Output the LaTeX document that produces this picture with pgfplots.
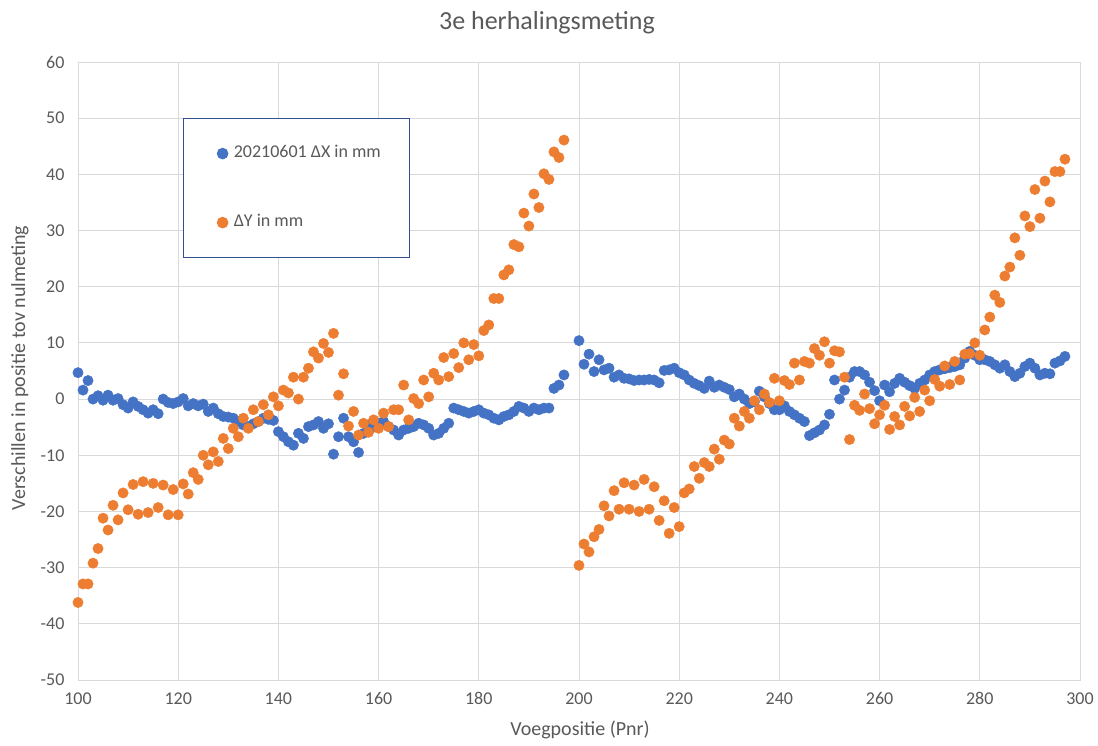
\documentclass[border=0pt]{standalone}
\usepackage{fontspec}
\setmainfont{Carlito}
\usepackage{pgfplots}
\pgfplotsset{compat=1.18}
\usepackage{pgfplotstable}
\definecolor{xblue}{HTML}{4472C4}
\definecolor{yorange}{HTML}{ED7D31}
\definecolor{txtgray}{HTML}{595959}
\definecolor{gridgray}{HTML}{D9D9D9}
\definecolor{legblue}{HTML}{2F528F}
\pgfplotsset{dotleg/.style={legend image code/.code={\path[draw=none,fill=none] (0pt,-8pt) rectangle (15pt,8pt); \draw[##1] plot coordinates {(10pt,0pt)};}}}

\pgfplotstableread{
x y
100 4.7
101 1.6
102 3.3
103 0.0
104 0.6
105 -0.2
106 0.7
107 -0.2
108 0.1
109 -1.0
110 -1.6
111 -0.5
112 -1.3
113 -1.9
114 -2.5
115 -1.9
116 -2.6
117 0.0
118 -0.6
119 -0.8
120 -0.5
121 0.1
122 -1.2
123 -0.8
124 -1.2
125 -0.9
126 -2.2
127 -1.6
128 -2.6
129 -3.1
130 -3.2
131 -3.4
132 -4.0
133 -4.6
134 -4.9
135 -4.4
136 -4.0
137 -3.4
138 -3.6
139 -3.8
140 -5.8
141 -6.7
142 -7.6
143 -8.2
144 -6.1
145 -7.0
146 -4.9
147 -4.6
148 -4.0
149 -5.2
150 -4.4
151 -9.8
152 -6.7
153 -3.4
154 -6.7
155 -7.6
156 -9.5
157 -6.1
158 -4.6
159 -5.0
160 -4.3
161 -4.0
162 -4.9
163 -5.5
164 -6.4
165 -5.5
166 -5.2
167 -4.9
168 -4.3
169 -4.6
170 -5.2
171 -6.4
172 -6.1
173 -5.2
174 -4.3
175 -1.6
176 -1.9
177 -2.2
178 -2.5
179 -2.2
180 -1.9
181 -2.5
182 -2.8
183 -3.4
184 -3.7
185 -3.1
186 -2.8
187 -2.2
188 -1.3
189 -1.6
190 -2.2
191 -1.6
192 -1.9
193 -1.6
194 -1.6
195 1.9
196 2.5
197 4.3
200 10.4
201 6.2
202 8.0
203 4.9
204 7.0
205 5.2
206 5.5
207 3.9
208 4.3
209 3.7
210 3.6
211 3.3
212 3.4
213 3.4
214 3.5
215 3.4
216 2.9
217 5.1
218 5.2
219 5.5
220 4.7
221 4.3
222 3.4
223 2.8
224 2.4
225 1.9
226 3.2
227 2.1
228 2.5
229 2.1
230 1.7
231 0.4
232 0.9
233 0.0
234 -0.8
235 -0.5
236 1.4
237 0.4
238 -0.8
239 -1.9
240 -1.9
241 -1.2
242 -2.2
243 -2.8
244 -3.4
245 -4.0
246 -6.5
247 -6.0
248 -5.5
249 -4.6
250 -2.7
251 3.4
252 0.0
253 1.6
254 3.9
255 4.9
256 4.9
257 4.3
258 3.0
259 1.5
260 -0.3
261 2.5
262 1.3
263 2.8
264 3.7
265 3.0
266 2.4
267 1.9
268 2.8
269 3.4
270 4.3
271 4.9
272 5.2
273 5.4
274 5.6
275 5.8
276 6.1
277 7.3
278 8.5
279 7.8
280 7.0
281 7.0
282 6.7
283 6.1
284 5.5
285 6.1
286 4.9
287 4.0
288 4.6
289 5.8
290 6.4
291 5.5
292 4.3
293 4.6
294 4.5
295 6.4
296 6.8
297 7.6
}\dxdata

\pgfplotstableread{
x y
100 -36.2
101 -32.9
102 -32.9
103 -29.2
104 -26.6
105 -21.2
106 -23.3
107 -18.9
108 -21.5
109 -16.7
110 -19.7
111 -15.2
112 -20.5
113 -14.7
114 -20.2
115 -15.0
116 -19.3
117 -15.3
118 -20.6
119 -16.1
120 -20.6
121 -15.1
122 -16.9
123 -13.1
124 -14.3
125 -10.0
126 -11.7
127 -9.4
128 -11.1
129 -7.0
130 -8.8
131 -5.2
132 -6.7
133 -3.4
134 -5.2
135 -1.9
136 -4.0
137 -1.0
138 -2.8
139 0.4
140 -1.2
141 1.6
142 1.1
143 3.9
144 0.0
145 3.9
146 5.5
147 8.4
148 7.3
149 9.9
150 8.3
151 11.7
152 0.7
153 4.5
154 -4.8
155 -2.2
156 -6.4
157 -4.3
158 -5.9
159 -3.7
160 -5.2
161 -2.5
162 -4.9
163 -1.9
164 -1.9
165 2.5
166 -3.7
167 0.1
168 -0.8
169 3.4
170 0.4
171 4.6
172 3.4
173 7.4
174 4.0
175 8.1
176 5.6
177 10.0
178 7.0
179 9.7
180 7.7
181 12.2
182 13.2
183 17.9
184 17.9
185 22.1
186 23.0
187 27.5
188 27.1
189 33.1
190 30.8
191 36.5
192 34.1
193 40.1
194 39.1
195 44.0
196 43.0
197 46.1
200 -29.6
201 -25.8
202 -27.2
203 -24.5
204 -23.2
205 -19.0
206 -20.8
207 -16.3
208 -19.6
209 -14.9
210 -19.6
211 -15.3
212 -20.0
213 -14.3
214 -19.6
215 -15.6
216 -21.6
217 -18.1
218 -23.9
219 -19.3
220 -22.7
221 -16.7
222 -16.0
223 -12.0
224 -14.1
225 -11.3
226 -12.0
227 -8.9
228 -10.7
229 -7.3
230 -8.0
231 -3.4
232 -4.8
233 -2.2
234 -3.4
235 -0.3
236 -1.9
237 0.9
238 -0.6
239 3.7
240 -0.3
241 3.3
242 2.6
243 6.4
244 3.4
245 6.7
246 6.4
247 9.0
248 7.8
249 10.2
250 6.4
251 8.6
252 8.4
253 3.9
254 -7.2
255 -1.1
256 -2.0
257 0.9
258 -1.7
259 -4.4
260 -2.8
261 -1.1
262 -5.4
263 -3.1
264 -4.6
265 -1.3
266 -3.0
267 0.3
268 -2.2
269 1.6
270 -0.3
271 3.5
272 2.3
273 5.9
274 2.6
275 6.7
276 3.4
277 8.0
278 8.1
279 10.0
280 7.8
281 12.3
282 14.6
283 18.5
284 17.2
285 21.9
286 23.5
287 28.7
288 25.6
289 32.6
290 30.7
291 37.3
292 32.2
293 38.8
294 35.1
295 40.5
296 40.5
297 42.7
}\dydata

\begin{document}
\begin{tikzpicture}
\path[use as bounding box] (-78pt,-65pt) rectangle (1020pt,680pt);
\begin{axis}[
  at={(0pt,0pt)}, anchor=south west,
  scale only axis, width=1002pt, height=618pt,
  xmin=100, xmax=300, ymin=-50, ymax=60,
  xtick distance=20, ytick distance=10,
  grid=major,
  major grid style={draw=gridgray, line width=0.9pt},
  axis line style={draw=gridgray, line width=0.9pt},
  major tick length=0pt,
  /pgf/number format/assume math mode=true,
  tick label style={font=\fontsize{18}{20}\selectfont, text=txtgray},
  xticklabel style={yshift=-9pt},
  yticklabel style={xshift=-10pt},
  xlabel={Voegpositie (Pnr)},
  ylabel={Verschillen in positie tov nulmeting},
  label style={font=\fontsize{20}{24}\selectfont, text=txtgray},
  xlabel style={at={(axis description cs:0.501,-0.0809)}, anchor=center},
  ylabel style={at={(axis description cs:-0.0579,0.505)}, anchor=center},
  clip=false,
  legend cell align=left,
  legend style={at={(0.1048,0.9094)}, anchor=north west,
    draw=legblue, line width=1.2pt,
    inner xsep=29pt, inner ysep=27pt, row sep=53pt, column sep=6pt,
    font=\fontsize{18}{20}\selectfont, text=txtgray,
    nodes={inner sep=0pt, text height=12pt, text depth=4pt}},
]
\addplot[only marks, mark=*, mark size=5.2pt, color=xblue, mark options={draw=none, fill=xblue}, dotleg]
  table[x=x, y=y] {\dxdata};
\addlegendentry{20210601 ΔX in mm}
\addplot[only marks, mark=*, mark size=5.2pt, color=yorange, mark options={draw=none, fill=yorange}, dotleg]
  table[x=x, y=y] {\dydata};
\addlegendentry{ΔY in mm}
\end{axis}
\node[font=\fontsize{26}{30}\selectfont, text=txtgray] at (469pt,657pt) {3e herhalingsmeting};
\end{tikzpicture}
\end{document}
